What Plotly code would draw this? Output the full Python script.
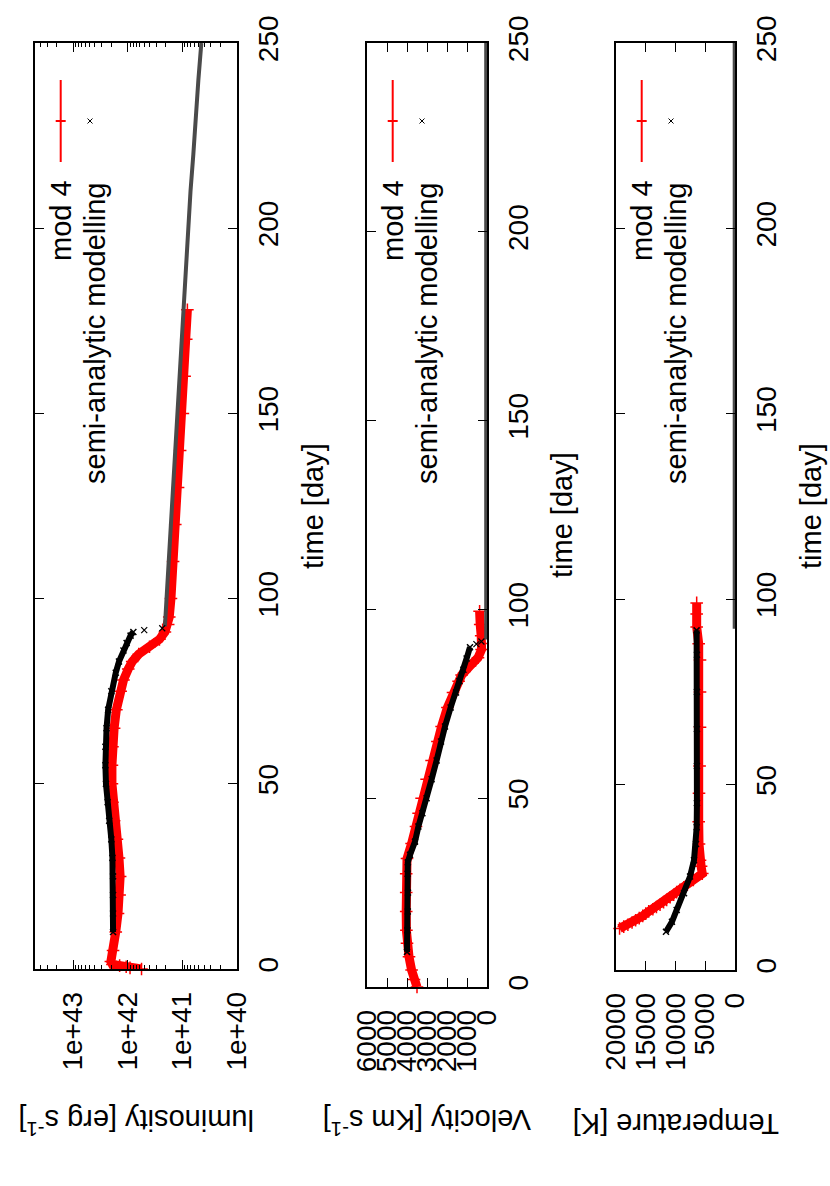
import plotly.graph_objects as go

W, H = 830, 1186
FONT = "Liberation Sans, Arial, Helvetica, sans-serif"
RED = "#ff0000"

# ---- luminosity [erg/s] vs time [day] ----
lum_mod4_t = [0.0, 0.3, 0.6, 0.9, 1.2, 2, 5, 10, 15, 20, 25, 30, 35, 40, 45, 50, 55, 60,
              65, 70, 75, 78, 81, 83, 85, 87, 89, 91, 93, 95, 100, 110, 120, 130, 140,
              150, 160, 170, 178]
lum_mod4 = [5.6e41, 9.1e41, 1.07e42, 1.41e42, 1.91e42, 2.04e42, 1.86e42, 1.66e42, 1.51e42,
            1.41e42, 1.38e42, 1.45e42, 1.58e42, 1.78e42, 1.91e42, 1.95e42, 1.95e42, 1.91e42,
            1.78e42, 1.62e42, 1.35e42, 1.20e42, 9.8e41, 8.3e41, 6.3e41, 4.0e41, 2.63e41,
            2.09e41, 1.82e41, 1.74e41, 1.62e41, 1.48e41, 1.35e41, 1.20e41, 1.10e41,
            9.8e40, 9.1e40, 8.5e40, 8.1e40]

lum_sa_t = [10, 15, 20, 25, 30, 35, 40, 45, 50, 55, 60, 65, 70, 75, 80, 83, 86, 88, 90, 91]
lum_sa = [1.86e42, 1.86e42, 1.86e42, 1.86e42, 1.91e42, 2.0e42, 2.19e42, 2.34e42, 2.51e42,
          2.57e42, 2.57e42, 2.45e42, 2.29e42, 2.0e42, 1.66e42, 1.45e42, 1.20e42, 1.05e42,
          8.9e41, 7.9e41]
lum_sa_jump_t = [91.5, 92.0]
lum_sa_jump = [5.0e41, 2.34e41]
lum_sa_tail_t = [92.5, 100, 110, 120, 130, 140, 150, 160, 170, 180, 190, 200, 210, 220,
                 230, 240, 250]
lum_sa_tail = [2.09e41, 1.95e41, 1.78e41, 1.66e41, 1.51e41, 1.38e41, 1.26e41, 1.15e41,
               1.05e41, 9.3e40, 8.5e40, 7.8e40, 7.1e40, 6.3e40, 5.75e40, 5.1e40, 4.5e40]

# ---- photospheric velocity [km/s] ----
vel_mod4_t = [0, 2, 4.5, 8, 11.6, 15, 20, 25, 30, 34, 38, 42.5, 46, 50, 55, 60, 65, 69, 74,
              78, 81, 82.6, 85, 87.2, 89.4, 91, 93, 96, 99.5]
vel_mod4 = [3500, 3650, 3770, 3900, 4000, 4030, 4040, 4040, 4040, 4000, 3770, 3550, 3420,
            3270, 3020, 2770, 2480, 2270, 1980, 1700, 1420, 1270, 850, 450, 270, 230, 290,
            340, 370]

vel_sa_t = [9.3, 15, 20, 25, 30, 33, 35, 38.5, 42.5, 46, 50, 55, 60, 65, 69, 74, 78, 81, 84,
            87, 90]
vel_sa = [4000, 3980, 3960, 3950, 3970, 3960, 3850, 3600, 3430, 3230, 3020, 2770, 2520,
          2300, 2100, 1820, 1550, 1380, 1180, 1020, 850]
vel_sa_jump_t = [90.8, 91.5]
vel_sa_jump = [530, 280]
vel_sa_tail_t = [92, 250]
vel_sa_tail = [40, 40]

# ---- temperature [K] ----
temp_mod4_t = [11.2, 11.7, 12.2, 12.8, 13.4, 14.0, 14.6, 15.2, 15.8, 16.4, 17.0, 17.6, 18.3,
               18.9, 19.6, 20.3, 21.0, 21.6, 22.3, 23.0, 24.3, 26, 28, 29.6, 34, 40, 47.7,
               55, 65.5, 75, 83.6, 88, 92.5, 96, 99]
temp_mod4 = [19400, 18700, 18000, 17300, 16700, 16100, 15500, 15000, 14500, 13800, 13200,
             12600, 12000, 11480, 10900, 10300, 9800, 9240, 8600, 8000, 7000, 5500, 5700,
             5880, 6050, 6100, 6050, 5950, 5880, 5880, 5880, 6100, 6440, 6440, 6440]

temp_sa_t = [10.3, 13, 16.2, 20.7, 25.2, 29.6, 34, 38.5, 45, 55, 65, 75, 85, 91.6]
temp_sa = [11600, 10600, 9800, 8570, 7560, 6890, 6550, 6440, 6400, 6400, 6400, 6400, 6400,
           6450]
temp_sa_tail_t = [92, 250]
temp_sa_tail = [50, 50]

time_ticks = [0, 50, 100, 150, 200, 250]
lum_ticks = [1e40, 1e41, 1e42, 1e43]
lum_ticktext = ["1e+40", "1e+41", "1e+42", "1e+43"]
lum_minor = [k * 10.0 ** e for e in (40, 41, 42) for k in range(2, 10)] + [2e43, 3e43, 4e43]
vel_ticks = [0, 1000, 2000, 3000, 4000, 5000, 6000]
temp_ticks = [0, 5000, 10000, 15000, 20000]

# panel boxes in pixels: left, right, top, bottom
boxes = [(35, 237, 43, 969), (367, 487, 43, 987), (616, 735, 43, 970)]


def px(x):
    return x / W


def py(y):
    return 1 - y / H


fig = go.Figure()

series = [
    (lum_mod4_t, lum_mod4, lum_sa_t, lum_sa, lum_sa_jump_t, lum_sa_jump, lum_sa_tail_t, lum_sa_tail),
    (vel_mod4_t, vel_mod4, vel_sa_t, vel_sa, vel_sa_jump_t, vel_sa_jump, vel_sa_tail_t, vel_sa_tail),
    (temp_mod4_t, temp_mod4, temp_sa_t, temp_sa, [], [], temp_sa_tail_t, temp_sa_tail),
]

for i, (mt, mv, st, sv, jt, jv, tt, tv) in enumerate(series):
    ax = dict(xaxis="x" if i == 0 else f"x{i + 1}", yaxis="y" if i == 0 else f"y{i + 1}")
    fig.add_trace(go.Scatter(x=mv, y=mt, mode="lines+markers", cliponaxis=False,
                             line=dict(color=RED, width=9),
                             marker=dict(symbol="cross-thin", size=9, color=RED,
                                         line=dict(color=RED, width=1.5)), **ax))
    fig.add_trace(go.Scatter(x=tv, y=tt, mode="lines", cliponaxis=False,
                             line=dict(color="#4a4a4a", width=4), **ax))
    fig.add_trace(go.Scatter(x=sv, y=st, mode="lines+markers", cliponaxis=False,
                             line=dict(color="black", width=6),
                             marker=dict(symbol="x-thin", size=6, color="black",
                                         line=dict(color="black", width=1.5)), **ax))
    if jt:
        fig.add_trace(go.Scatter(x=jv, y=jt, mode="markers", cliponaxis=False,
                                 marker=dict(symbol="x-thin", size=6, color="black",
                                             line=dict(color="black", width=1.2)), **ax))

common = dict(showline=True, linecolor="black", linewidth=1.5, mirror="ticks",
              ticks="inside", ticklen=9, tickwidth=1.2, tickcolor="black",
              showgrid=False, zeroline=False, tickangle=-90, automargin=False,
              tickfont=dict(family=FONT, size=28, color="black"))

x_specs = [
    dict(type="log", range=[43.699, 40], tickmode="array", tickvals=lum_ticks,
         ticktext=lum_ticktext,
         minor=dict(tickvals=lum_minor, ticks="inside", ticklen=4, tickcolor="black",
                    tickwidth=1, showgrid=False)),
    dict(range=[6000, 0], tickmode="array", tickvals=vel_ticks,
         ticktext=[str(v) for v in vel_ticks]),
    dict(range=[20000, 0], tickmode="array", tickvals=temp_ticks,
         ticktext=[str(v) for v in temp_ticks]),
]

layout = dict(width=W, height=H, margin=dict(l=0, r=0, t=0, b=0, autoexpand=False),
              paper_bgcolor="white", plot_bgcolor="white", showlegend=False)
for i, (l, r, t, b) in enumerate(boxes):
    sx = "" if i == 0 else str(i + 1)
    layout["xaxis" + sx] = dict(domain=[px(l), px(r)], anchor="y" + sx,
                                ticklabelstandoff=10, **common, **x_specs[i])
    layout["yaxis" + sx] = dict(domain=[py(b), py(t)], anchor="x" + sx, side="right",
                                range=[0, 250], tickmode="array", tickvals=time_ticks,
                                ticktext=[str(v) for v in time_ticks],
                                ticklabelstandoff=6, **common)
fig.update_layout(**layout)

ann_font = dict(family=FONT, size=29, color="black")
titles = [("luminosity [erg s<sup>-1</sup>]", 136, 1122),
          ("Velocity [Km s<sup>-1</sup>]", 427, 1122),
          ("Temperature [K]", 676, 1124)]
for text, x, y in titles:
    fig.add_annotation(text=text, x=px(x), y=py(y), xref="paper", yref="paper",
                       showarrow=False, textangle=180, xanchor="center", yanchor="middle",
                       font=ann_font)

time_title_x = [313, 562, 811]
centers = [506, 515, 506]
for x, y in zip(time_title_x, centers):
    fig.add_annotation(text="time [day]", x=px(x), y=py(y), xref="paper", yref="paper",
                       showarrow=False, textangle=-90, xanchor="center", yanchor="middle",
                       font=ann_font)

# key (rotated with the page)
for l, r, t, b in boxes:
    fig.add_annotation(text="mod 4", x=px(l + 26), y=py(221), xref="paper", yref="paper",
                       showarrow=False, textangle=-90, xanchor="center", yanchor="middle",
                       font=ann_font)
    fig.add_annotation(text="semi-analytic modelling", x=px(l + 60), y=py(334),
                       xref="paper", yref="paper", showarrow=False, textangle=-90,
                       xanchor="center", yanchor="middle", font=ann_font)
    rx = l + 25.7
    fig.add_shape(type="line", xref="paper", yref="paper", x0=px(rx), x1=px(rx),
                  y0=py(80), y1=py(162), line=dict(color=RED, width=2))
    fig.add_shape(type="line", xref="paper", yref="paper", x0=px(rx - 5), x1=px(rx + 5),
                  y0=py(121), y1=py(121), line=dict(color=RED, width=2))
    bx = l + 55
    fig.add_shape(type="line", xref="paper", yref="paper", x0=px(bx - 2.5), x1=px(bx + 2.5),
                  y0=py(118.5), y1=py(123.5), line=dict(color="black", width=1))
    fig.add_shape(type="line", xref="paper", yref="paper", x0=px(bx - 2.5), x1=px(bx + 2.5),
                  y0=py(123.5), y1=py(118.5), line=dict(color="black", width=1))

fig.write_html("out.html", config={"displayModeBar": False},
               post_script="document.body.style.margin='0';document.body.style.overflow='hidden';")
